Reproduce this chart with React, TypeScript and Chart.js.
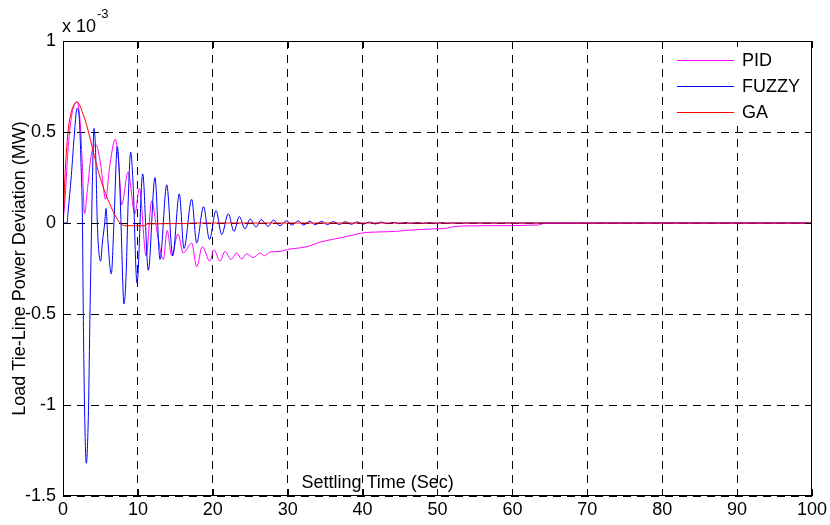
import React, { useEffect, useRef } from 'react';
import { Chart, registerables } from 'chart.js';

Chart.register(...registerables);

// ---- data (y values in units of 1e-3 MW) ----
const xTicks = [0, 10, 20, 30, 40, 50, 60, 70, 80, 90, 100];
const yTicks = [-1.5, -1, -0.5, 0, 0.5, 1];

const seriesNames = ['PID', 'FUZZY', 'GA'];
const seriesColors = ['#ff00ff', '#0000ff', '#ff0000'];

const pidX = [0, 0.3, 0.7, 1.2, 1.87, 2.3, 2.6, 2.87, 3.3, 3.8, 4.4, 5.0, 5.7, 6.2, 6.98, 7.4, 7.84, 8.68, 9.6, 10.2, 11.1, 11.84, 12.6, 13.4, 13.9, 14.5, 15.35, 16.06, 17.18, 17.85, 18.6, 19.6, 20.15, 20.96, 21.63, 22.43, 23.18, 23.85, 24.5, 25.4, 26.3, 26.9, 27.6, 28.9, 30.3, 31.6, 32.98, 34.3, 36.0, 37.8, 39.9, 42.3, 44.5, 45.9, 47.7, 49.0, 51.3, 52.1, 56.5, 63.5, 64.2, 100];
const pidY = [0, 0.15, 0.42, 0.6, 0.665, 0.55, 0.3, 0.05, 0.2, 0.38, 0.43, 0.33, 0.13, 0.3, 0.46, 0.35, 0.10, 0.28, 0.05, 0.19, -0.18, 0.12, -0.06, -0.20, -0.04, -0.18, -0.06, -0.165, -0.11, -0.24, -0.13, -0.21, -0.147, -0.21, -0.156, -0.20, -0.165, -0.198, -0.169, -0.19, -0.165, -0.18, -0.16, -0.156, -0.143, -0.137, -0.125, -0.105, -0.09, -0.075, -0.055, -0.049, -0.046, -0.04, -0.036, -0.033, -0.028, -0.02, -0.015, -0.011, -0.002, 0];

const fuzzyX = [0, 0.55, 0.67, 1.11, 1.56, 1.87, 2.14, 2.44, 2.6, 2.71, 2.87, 3.11, 3.40, 3.60, 3.78, 3.91, 4.14, 4.37, 4.58, 5.03, 5.25, 5.57, 5.75, 6.0, 6.45, 6.8, 7.25, 7.57, 7.78, 8.14, 8.45, 8.68, 9.04, 9.35, 9.88, 10.64, 11.39, 12.28, 12.95, 13.85, 14.65, 15.53, 16.15, 17.18, 17.85, 18.76, 19.56, 20.43, 21.19, 22.07, 22.83, 23.54, 24.30, 24.97, 25.77, 26.44, 27.41, 28.08, 28.97, 29.87, 30.53, 31.42, 32.08, 32.98, 33.64, 34.54, 35.3, 36.1, 36.9, 37.7, 38.5, 39.3, 40.1, 40.9, 41.7, 42.5, 43.3, 44.1, 44.9, 45.7, 46.5, 47.3, 48.1, 48.9, 49.7, 50.5, 51.3, 52.0, 100];
const fuzzyY = [0, 0, 0.056, 0.26, 0.51, 0.63, 0.59, 0.28, 0, -0.5, -1.0, -1.32, -1.03, -0.5, -0.1, 0.2, 0.52, 0.37, 0, -0.21, -0.11, 0, 0.08, -0.1, -0.28, 0, 0.42, 0.22, -0.05, -0.445, -0.26, 0.09, 0.39, 0.22, -0.33, 0.27, -0.26, 0.25, -0.20, 0.21, -0.18, 0.16, -0.14, 0.13, -0.11, 0.09, -0.09, 0.069, -0.064, 0.051, -0.046, 0.036, -0.033, 0.022, -0.022, 0.018, -0.018, 0.016, -0.015, 0.013, -0.012, 0.012, -0.011, 0.010, -0.010, 0.009, -0.009, 0.008, -0.008, 0.007, -0.007, 0.006, -0.006, 0.005, -0.005, 0.005, -0.004, 0.004, -0.004, 0.003, -0.003, 0.003, -0.003, 0.002, -0.002, 0.002, -0.002, 0, 0];

const gaX = [0, 0.1, 0.23, 0.67, 1.11, 1.56, 1.87, 2.67, 3.34, 4.0, 4.67, 5.34, 6.01, 6.9, 7.57, 8.24, 10.95, 11.2, 16.7, 17.0, 100];
const gaY = [0, 0.08, 0.23, 0.50, 0.61, 0.655, 0.665, 0.60, 0.51, 0.40, 0.29, 0.20, 0.128, 0.046, 0.003, -0.015, -0.015, -0.005, -0.003, 0, 0];

const xTitle = 'Settling Time (Sec)';
const yTitle = 'Load Tie-Line Power Deviation (MW)';

const FONT = "'Liberation Sans', Arial, sans-serif";

const toPoints = (xs: number[], ys: number[]) => xs.map((x, i) => ({ x, y: ys[i] }));

const decorPlugin = {
  id: 'decor',
  afterDraw(chart: any) {
    const { ctx, chartArea: a, scales } = chart;
    const xs = scales.x;
    const ys = scales.y;
    ctx.save();
    ctx.setLineDash([]);
    ctx.strokeStyle = '#000';
    ctx.lineWidth = 1;
    // frame
    ctx.strokeRect(Math.round(a.left) + 0.5, Math.round(a.top) + 0.5, Math.round(a.right - a.left) - 1, Math.round(a.bottom - a.top) - 1);
    // inward ticks
    const tl = 7;
    ctx.beginPath();
    xTicks.forEach((v) => {
      const p = Math.round(xs.getPixelForValue(v)) + 0.5;
      ctx.moveTo(p, a.bottom);
      ctx.lineTo(p, a.bottom - tl);
      ctx.moveTo(p, a.top);
      ctx.lineTo(p, a.top + tl);
    });
    yTicks.forEach((v) => {
      const p = Math.round(ys.getPixelForValue(v)) + 0.5;
      ctx.moveTo(a.left, p);
      ctx.lineTo(a.left + tl, p);
      ctx.moveTo(a.right, p);
      ctx.lineTo(a.right - tl, p);
    });
    ctx.stroke();

    // legend
    const lx = a.right - 144;
    const ly = a.top + 6;
    ctx.fillStyle = '#fff';
    ctx.fillRect(lx, ly, 140, 79);
    ctx.font = `18px ${FONT}`;
    ctx.textBaseline = 'middle';
    ctx.textAlign = 'left';
    seriesNames.forEach((name, i) => {
      const yy = ly + 13.5 + i * 26;
      ctx.strokeStyle = seriesColors[i];
      ctx.beginPath();
      ctx.moveTo(lx + 9, yy);
      ctx.lineTo(lx + 66, yy);
      ctx.stroke();
      ctx.fillStyle = '#000';
      ctx.fillText(name, lx + 74, yy + 1);
    });

    // exponent
    ctx.fillStyle = '#000';
    ctx.textAlign = 'left';
    ctx.textBaseline = 'alphabetic';
    ctx.font = `18px ${FONT}`;
    ctx.fillText('x 10', a.left - 1, a.top - 9);
    const w = ctx.measureText('x 10').width;
    ctx.font = `13px ${FONT}`;
    ctx.fillText('-3', a.left - 1 + w + 1, a.top - 23);

    // x title (inside plot, near bottom)
    ctx.font = `18px ${FONT}`;
    ctx.textAlign = 'center';
    ctx.textBaseline = 'middle';
    ctx.fillText(xTitle, a.left + 0.42 * (a.right - a.left), a.bottom - 13);

    // y title
    ctx.translate(20, (a.top + a.bottom) / 2);
    ctx.rotate(-Math.PI / 2);
    ctx.fillText(yTitle, 0, 0);
    ctx.restore();
  },
};

export default function App() {
  const ref = useRef<HTMLCanvasElement>(null);
  useEffect(() => {
    document.body.style.margin = '0';
    const chart = new Chart(ref.current as HTMLCanvasElement, {
      type: 'line',
      data: {
        datasets: [
          { label: seriesNames[0], data: toPoints(pidX, pidY), borderColor: seriesColors[0], order: 3 },
          { label: seriesNames[1], data: toPoints(fuzzyX, fuzzyY), borderColor: seriesColors[1], order: 2 },
          { label: seriesNames[2], data: toPoints(gaX, gaY), borderColor: seriesColors[2], order: 1 },
        ].map((d) => ({ ...d, borderWidth: 1, pointRadius: 0, fill: false, cubicInterpolationMode: 'monotone' as const })),
      },
      options: {
        responsive: false,
        animation: false,
        devicePixelRatio: 1,
        layout: { padding: { top: 41, right: 18, left: 0, bottom: 0 } },
        plugins: { legend: { display: false }, tooltip: { enabled: false }, title: { display: false } },
        scales: {
          x: {
            type: 'linear',
            min: 0,
            max: 100,
            afterBuildTicks: (s: any) => { s.ticks = xTicks.map((v) => ({ value: v })); },
            afterFit: (s: any) => { s.height = 29; },
            ticks: { color: '#000', padding: 3, maxRotation: 0, font: { family: FONT, size: 18 }, callback: (v: any) => String(v) },
            grid: { color: '#000', lineWidth: 1, drawTicks: false },
            border: { display: false, dash: [8, 6] },
          },
          y: {
            type: 'linear',
            min: -1.5,
            max: 1,
            afterBuildTicks: (s: any) => { s.ticks = yTicks.map((v) => ({ value: v })); },
            afterFit: (s: any) => { s.width = 63; },
            ticks: { color: '#000', padding: 7, font: { family: FONT, size: 18 }, callback: (v: any) => String(v) },
            grid: { color: '#000', lineWidth: 1, drawTicks: false },
            border: { display: false, dash: [8, 6] },
          },
        },
      },
      plugins: [decorPlugin],
    });
    return () => chart.destroy();
  }, []);
  return (
    <div style={{ position: 'fixed', left: 0, top: 0, width: 830, height: 525, background: '#fff' }}>
      <canvas ref={ref} width={830} height={525} style={{ display: 'block', width: 830, height: 525 }} />
    </div>
  );
}
